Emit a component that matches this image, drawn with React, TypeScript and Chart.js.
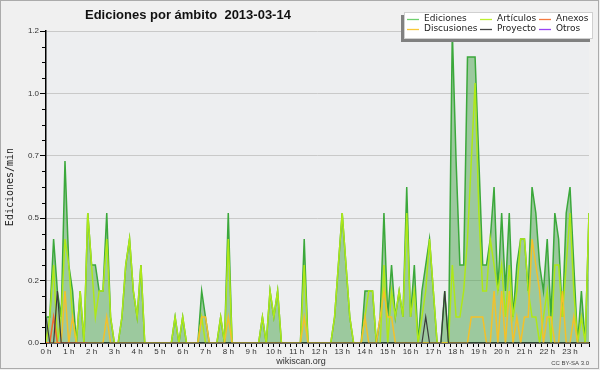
import React, { useEffect, useRef } from 'react';
import { Chart, registerables } from 'chart.js';

Chart.register(...registerables);

const TITLE = 'Ediciones por ámbito  2013-03-14';
const Y_TITLE = 'Ediciones/min';
const FOOTER = 'wikiscan.org';
const LICENSE = 'CC BY-SA 3.0';
const STEP_MINUTES = 10;

// Y axis: 5 equal divisions of the day's maximum
const Y_MAX = 1.2;
const Y_STEP = 0.24;
const Y_MINOR = 0.06;

// 10-minute buckets, 6 per hour (00:00 .. 23:50)
const EDICIONES = [
  0.1, 0.1, 0.4, 0.2, 0.1, 0.7,
  0.3, 0.2, 0, 0.2, 0, 0.5,
  0.3, 0.3, 0.2, 0.2, 0.5, 0.1,
  0, 0, 0.1, 0.3, 0.4, 0.2,
  0.1, 0.3, 0, 0, 0, 0,
  0, 0, 0, 0, 0.1, 0,
  0.1, 0, 0, 0, 0, 0.2,
  0.1, 0, 0, 0, 0.1, 0,
  0.5, 0, 0, 0, 0, 0,
  0, 0, 0, 0.1, 0, 0.2,
  0.1, 0.2, 0, 0, 0, 0,
  0, 0, 0.4, 0, 0, 0,
  0, 0, 0, 0, 0.1, 0.3,
  0.5, 0.3, 0.1, 0, 0, 0,
  0.2, 0.2, 0.2, 0, 0.1, 0.5,
  0.1, 0.3, 0.1, 0.2, 0.1, 0.6,
  0.1, 0.3, 0, 0.2, 0.3, 0.4,
  0.2, 0, 0, 0.2, 0, 1.2,
  0.7, 0.3, 0.3, 1.1, 1.1, 1.1,
  0.7, 0.3, 0.3, 0.4, 0.6, 0.2,
  0.5, 0.2, 0.5, 0.1, 0.3, 0.4,
  0.4, 0.2, 0.6, 0.5, 0.3, 0.2,
  0.4, 0.1, 0.5, 0.4, 0.1, 0.5,
  0.6, 0.3, 0, 0.2, 0, 0.5,
];

const ARTICULOS = [
  0, 0.1, 0.3, 0, 0.1, 0.4,
  0.3, 0.1, 0, 0.2, 0, 0.5,
  0.3, 0.1, 0.2, 0.2, 0.4, 0.1,
  0, 0, 0.1, 0.3, 0.4, 0.2,
  0.1, 0.3, 0, 0, 0, 0,
  0, 0, 0, 0, 0.1, 0,
  0.1, 0, 0, 0, 0, 0.1,
  0, 0, 0, 0, 0.1, 0,
  0.4, 0, 0, 0, 0, 0,
  0, 0, 0, 0.1, 0, 0.2,
  0.1, 0.2, 0, 0, 0, 0,
  0, 0, 0.3, 0, 0, 0,
  0, 0, 0, 0, 0.1, 0.3,
  0.5, 0.3, 0.1, 0, 0, 0,
  0.1, 0.2, 0.2, 0, 0, 0.3,
  0, 0.2, 0.1, 0.2, 0.1, 0.5,
  0.1, 0.2, 0, 0.1, 0.2, 0.4,
  0.2, 0, 0, 0, 0, 0.3,
  0.1, 0.1, 0.2, 0.4, 0.7, 1.0,
  0.5, 0.2, 0.2, 0.4, 0.3, 0.2,
  0.3, 0.1, 0.3, 0.1, 0.2, 0.4,
  0.4, 0.2, 0.1, 0.1, 0, 0.1,
  0.2, 0, 0.3, 0.3, 0.1, 0.3,
  0.5, 0.2, 0, 0.1, 0, 0.5,
];

const DISCUSIONES = [
  0, 0, 0, 0, 0, 0.2,
  0, 0.1, 0, 0, 0, 0,
  0, 0, 0, 0, 0.1, 0,
  0, 0, 0, 0, 0, 0,
  0, 0, 0, 0, 0, 0,
  0, 0, 0, 0, 0, 0,
  0, 0, 0, 0, 0, 0.1,
  0.1, 0, 0, 0, 0, 0,
  0.1, 0, 0, 0, 0, 0,
  0, 0, 0, 0, 0, 0,
  0, 0, 0, 0, 0, 0,
  0, 0, 0.1, 0, 0, 0,
  0, 0, 0, 0, 0, 0,
  0, 0, 0, 0, 0, 0,
  0.1, 0, 0, 0, 0.1, 0.2,
  0.1, 0.1, 0, 0, 0, 0,
  0, 0, 0, 0, 0, 0,
  0, 0, 0, 0, 0, 0,
  0, 0, 0, 0, 0.1, 0.1,
  0.1, 0.1, 0, 0, 0.2, 0,
  0.2, 0, 0.2, 0, 0.1, 0,
  0.1, 0.1, 0.4, 0.3, 0.2, 0,
  0.1, 0.1, 0, 0, 0.2, 0,
  0, 0.1, 0, 0, 0, 0,
];

const PROYECTO = [
  0.1, 0, 0, 0.2, 0, 0,
  0, 0, 0, 0, 0, 0,
  0, 0, 0, 0, 0, 0,
  0, 0, 0, 0, 0, 0,
  0, 0, 0, 0, 0, 0,
  0, 0, 0, 0, 0, 0,
  0, 0, 0, 0, 0, 0,
  0, 0, 0, 0, 0, 0,
  0, 0, 0, 0, 0, 0,
  0, 0, 0, 0, 0, 0,
  0, 0, 0, 0, 0, 0,
  0, 0, 0, 0, 0, 0,
  0, 0, 0, 0, 0, 0,
  0, 0, 0, 0, 0, 0,
  0, 0, 0, 0, 0, 0,
  0, 0, 0, 0, 0, 0,
  0, 0, 0, 0, 0.1, 0,
  0, 0, 0, 0.2, 0, 0,
  0, 0, 0, 0, 0, 0,
  0, 0, 0, 0, 0, 0,
  0, 0, 0, 0, 0, 0,
  0, 0, 0, 0, 0, 0,
  0, 0, 0, 0, 0, 0,
  0, 0, 0, 0, 0, 0,
];

const ANEXOS = [
  0, 0, 0.1, 0, 0, 0,
  0, 0, 0, 0, 0, 0,
];

const OTROS: number[] = [];

const SERIES_NAMES = ['Ediciones', 'Artículos', 'Anexos', 'Discusiones', 'Proyecto', 'Otros'];
const SERIES_COLORS = ['#3ba83b', '#aee818', '#f2692e', '#f3c12a', '#3a3a3a', '#9340f0'];
const LEGEND_COLORS = ['#6fd06f', '#bdf030', '#f47a40', '#f8c838', '#444444', '#9a44f4'];

function toPoints(values: number[]) {
  return values.map((v, i) => ({ x: (i * STEP_MINUTES) / 60, y: v }));
}

const decorPlugin = {
  id: 'decor',
  beforeDraw(chart: any) {
    const { ctx, chartArea: a, width, height } = chart;
    ctx.save();
    ctx.fillStyle = '#f0f0f0';
    ctx.fillRect(0, 0, width, height);
    ctx.strokeStyle = '#ababab';
    ctx.lineWidth = 1;
    ctx.strokeRect(0.5, 0.5, width - 2, height - 2);
    ctx.fillStyle = '#edeef0';
    ctx.fillRect(a.left, a.top, a.right - a.left, a.bottom - a.top);
    ctx.restore();
  },
  afterDraw(chart: any) {
    const { ctx, chartArea: a } = chart;
    const y = chart.scales.y;
    ctx.save();
    // minor ticks on the y axis
    ctx.strokeStyle = '#000';
    ctx.lineWidth = 1;
    ctx.beginPath();
    const n = Math.round(Y_MAX / Y_MINOR);
    const per = Math.round(Y_STEP / Y_MINOR);
    for (let k = 1; k < n; k++) {
      if (k % per === 0) continue;
      const py = Math.round(y.getPixelForValue(k * Y_MINOR)) + 0.5;
      ctx.moveTo(a.left - 4, py);
      ctx.lineTo(a.left, py);
    }
    ctx.stroke();

    // title
    ctx.fillStyle = '#111';
    ctx.font = 'bold 13px "Liberation Sans", Arial, sans-serif';
    ctx.textAlign = 'left';
    ctx.textBaseline = 'alphabetic';
    ctx.fillText(TITLE, 85, 19);

    // legend box with shadow
    const bx = 404, by = 12, bw = 189, bh = 27;
    ctx.fillStyle = '#808080';
    ctx.fillRect(bx - 3, by + 3, bw, bh);
    ctx.fillStyle = '#ffffff';
    ctx.fillRect(bx, by, bw, bh);
    ctx.strokeStyle = '#d0d0d0';
    ctx.strokeRect(bx + 0.5, by + 0.5, bw - 1, bh - 1);
    const colX = [407, 480, 539];
    const rowY = [19, 29];
    ctx.font = '9px "DejaVu Sans", sans-serif';
    ctx.textBaseline = 'middle';
    SERIES_NAMES.forEach((name, i) => {
      const c = i % 3;
      const r = Math.floor(i / 3);
      const sx = colX[c];
      const sy = rowY[r];
      ctx.strokeStyle = LEGEND_COLORS[i];
      ctx.lineWidth = 1.3;
      ctx.beginPath();
      ctx.moveTo(sx, sy + 0.5);
      ctx.lineTo(sx + 12, sy + 0.5);
      ctx.stroke();
      ctx.fillStyle = '#222';
      ctx.fillText(name, sx + 17, sy);
    });

    // footer
    ctx.fillStyle = '#333';
    ctx.font = '9px "Liberation Sans", Arial, sans-serif';
    ctx.textAlign = 'center';
    ctx.fillText(FOOTER, 301, 361.5);
    ctx.font = '6px "Liberation Sans", Arial, sans-serif';
    ctx.textAlign = 'right';
    ctx.fillStyle = '#444';
    ctx.fillText(LICENSE, 589, 363);
    ctx.restore();
  },
};

export default function App() {
  const ref = useRef<HTMLCanvasElement | null>(null);

  useEffect(() => {
    if (!ref.current) return;
    const xMax = ((EDICIONES.length - 1) * STEP_MINUTES) / 60;
    const line = (idx: number, data: number[], extra: any = {}) => ({
      label: SERIES_NAMES[idx],
      data: toPoints(data),
      borderColor: SERIES_COLORS[idx],
      backgroundColor: SERIES_COLORS[idx],
      borderWidth: 1.5,
      pointRadius: 0,
      tension: 0,
      fill: false,
      ...extra,
    });
    const chart = new Chart(ref.current, {
      type: 'line',
      data: {
        datasets: [
          line(0, EDICIONES, { fill: 'origin', backgroundColor: 'rgba(76,164,76,0.5)', order: 6 }),
          line(1, ARTICULOS, { order: 5 }),
          line(3, DISCUSIONES, { order: 4 }),
          line(2, ANEXOS, { order: 3 }),
          line(5, OTROS, { order: 2 }),
          line(4, PROYECTO, { borderWidth: 1.2, order: 1 }),
        ],
      },
      options: {
        responsive: false,
        animation: false,
        devicePixelRatio: 1,
        layout: { padding: { top: 31, right: 11, left: 0, bottom: 0 } },
        plugins: {
          legend: { display: false },
          title: { display: false },
          tooltip: { enabled: false },
        },
        scales: {
          x: {
            type: 'linear',
            min: 0,
            max: xMax,
            z: 1,
            border: { display: true, color: '#000', width: 1.5 },
            grid: { display: true, drawOnChartArea: false, drawTicks: true, tickLength: 4, tickColor: '#000', tickWidth: 1 },
            ticks: {
              stepSize: 0.25,
              autoSkip: false,
              maxRotation: 0,
              minRotation: 0,
              padding: 0,
              color: '#333',
              font: { family: 'Liberation Sans', size: 8 },
              callback: (v: any) => (Number.isInteger(v) ? `${v} h` : ''),
            },
            afterFit: (s: any) => { s.height = 27; },
          },
          y: {
            min: 0,
            max: Y_MAX,
            border: { display: true, color: '#000', width: 1.5 },
            grid: { color: '#c9c9c9', lineWidth: 1, tickLength: 6, tickColor: '#000', drawTicks: true },
            ticks: {
              stepSize: Y_STEP,
              padding: 1,
              color: '#333',
              font: { family: 'Liberation Sans', size: 8 },
              callback: (v: any) => Number(v).toFixed(1),
            },
            title: {
              display: true,
              text: Y_TITLE,
              color: '#222',
              font: { family: 'DejaVu Sans Mono', size: 10 },
              padding: { top: 4, bottom: 0 },
            },
            afterFit: (s: any) => { s.width = 46; },
          },
        },
      },
      plugins: [decorPlugin],
    } as any);
    return () => chart.destroy();
  }, []);

  return (
    <div style={{ position: 'absolute', left: 0, top: 0, width: 600, height: 370 }}>
      <canvas ref={ref} width={600} height={370} style={{ width: 600, height: 370, display: 'block' }} />
    </div>
  );
}
